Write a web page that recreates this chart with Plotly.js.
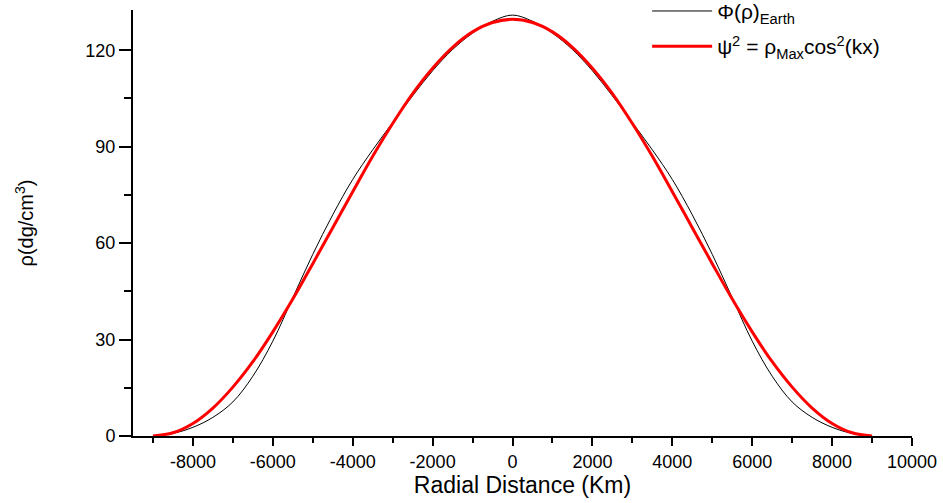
<!DOCTYPE html>
<html>
<head>
<meta charset="utf-8">
<script src="https://cdn.plot.ly/plotly-3.0.1.min.js"></script>
<style>html,body{margin:0;padding:0;background:#fff;} #chart{width:943px;height:503px;}</style>
</head>
<body>
<div id="chart"></div>
<script>
// Radial distance (km)
const radialKm = [-9000,-8500,-8000,-7500,-7000,-6500,-6000,-5500,-5000,-4500,-4000,-3500,-3000,-2500,-2000,-1500,-1000,-500,0,
                  500,1000,1500,2000,2500,3000,3500,4000,4500,5000,5500,6000,6500,7000,7500,8000,8500,9000];
// Φ(ρ)_Earth density (dg/cm³)
const earthDensity = [0,0.8,2.7,5.8,10.6,18.6,29.5,43.0,56.5,68.8,79.8,89.0,97.5,105.8,113.6,120.2,125.3,129.0,130.9,
                      129.0,125.3,120.2,113.6,105.8,97.5,89.0,79.8,68.8,56.5,43.0,29.5,18.6,10.6,5.8,2.7,0.8,0];
// ψ² = ρ_Max cos²(kx)
const psiSquared = [0,1.0,3.9,8.7,15.2,23.1,32.4,42.6,53.6,64.8,76.0,87.0,97.2,106.5,114.4,120.9,125.7,128.6,129.6,
                    128.6,125.7,120.9,114.4,106.5,97.2,87.0,76.0,64.8,53.6,42.6,32.4,23.1,15.2,8.7,3.9,1.0,0];
const seriesNames = ['Φ(ρ)<sub>Earth</sub>', 'ψ<sup>2</sup> = ρ<sub>Max</sub>cos<sup>2</sup>(kx)'];
const xTickVals = [-8000,-6000,-4000,-2000,0,2000,4000,6000,8000,10000];
const yTickVals = [0,30,60,90,120];

const font = 'Arial, "Liberation Sans", sans-serif';
const traces = [
  {x: radialKm, y: earthDensity, name: seriesNames[0], mode: 'lines', legendgroup: 'a',
   line: {color: '#000000', width: 1, shape: 'spline', smoothing: 1}},
  {x: radialKm, y: psiSquared, name: seriesNames[1], mode: 'lines', legendgroup: 'b',
   line: {color: '#ff0000', width: 3, shape: 'spline', smoothing: 1}}
];
const layout = {
  width: 943, height: 503,
  margin: {l: 133, r: 31, t: 10, b: 67, autoexpand: false},
  paper_bgcolor: '#ffffff', plot_bgcolor: '#ffffff',
  font: {family: font, color: '#000', size: 18},
  showlegend: true,
  legend: {x: 0.66, y: 1.045, xanchor: 'left', yanchor: 'top', bgcolor: 'rgba(0,0,0,0)',
           font: {family: font, size: 21, color: '#000'}, itemwidth: 60,
           traceorder: 'grouped', tracegroupgap: 5},
  xaxis: {
    range: [-9500, 10000], showgrid: false, zeroline: false,
    showline: true, linecolor: '#000', linewidth: 2,
    ticks: 'outside', ticklen: 8, tickwidth: 2, tickcolor: '#000',
    tickvals: xTickVals, ticktext: xTickVals.map(String),
    minor: {dtick: 1000, tick0: -9000, ticks: 'outside', ticklen: 5, tickwidth: 2, tickcolor: '#000', showgrid: false},
    tickfont: {family: font, size: 18},
    title: {text: 'Radial Distance (Km)', font: {family: font, size: 23}, standoff: 6}
  },
  yaxis: {
    range: [0, 132.5], showgrid: false, zeroline: false,
    showline: true, linecolor: '#000', linewidth: 2,
    ticks: 'outside', ticklen: 12, tickwidth: 2, tickcolor: '#000',
    tickvals: yTickVals, ticktext: yTickVals.map(String),
    minor: {dtick: 15, tick0: 15, ticks: 'outside', ticklen: 7, tickwidth: 2, tickcolor: '#000', showgrid: false},
    tickfont: {family: font, size: 18},
    title: {text: 'ρ(dg/cm<sup>3</sup>)', font: {family: font, size: 20}, standoff: 46}
  }
};
Plotly.newPlot('chart', traces, layout, {displayModeBar: false, staticPlot: true});
</script>
</body>
</html>
